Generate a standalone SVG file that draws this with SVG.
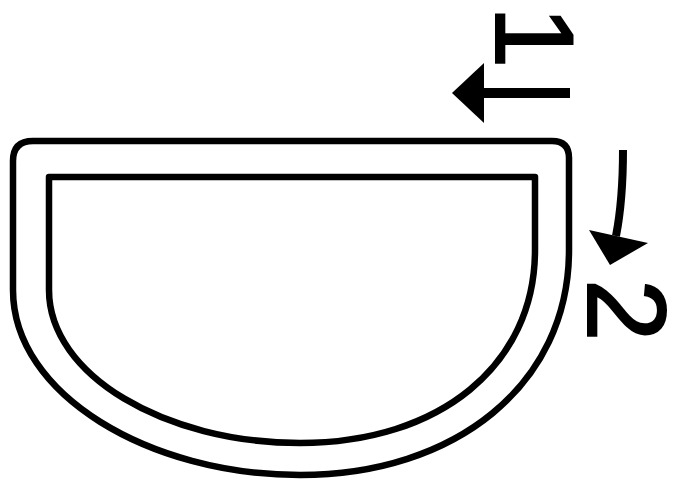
<svg xmlns="http://www.w3.org/2000/svg" width="677" height="484" viewBox="0 0 677 484">
<style>
.outline{fill:none;stroke:#000;stroke-width:6.5;stroke-linejoin:round}
.shaft{fill:none;stroke:#000}
.head{fill:#000}
.lbl{font-family:"Liberation Sans",Arial,sans-serif;font-size:112px;fill:#000;stroke:#000;stroke-width:2}
</style>
<rect width="677" height="484" fill="#fff"/>
<g id="outer">
<path class="outline" d="M33 141 H552 Q569 141 569 158 V250 C569 385 455 475 300 475 C150 475 13 395 13 290 V161 Q13 141 33 141 Z"/>
</g>
<g id="inner">
<path class="outline" d="M49 177 H535 V250 C535 365 440 443 300 443 C165 443 49 375 49 290 Z"/>
</g>
<g id="label1">
<text class="lbl" transform="translate(496,6) rotate(90)">1</text>
</g>
<g id="label2">
<text class="lbl" transform="translate(588,279) rotate(90)">2</text>
</g>
<g id="connectors">
<path class="shaft" stroke-width="10" d="M480 93 H570"/>
<polygon class="head" points="452,93 484,63 484,123"/>
<path class="shaft" stroke-width="8" d="M623 150 Q623 200 616 236"/>
<polygon class="head" points="589,230 648,243 610,265"/>
</g>
</svg>
